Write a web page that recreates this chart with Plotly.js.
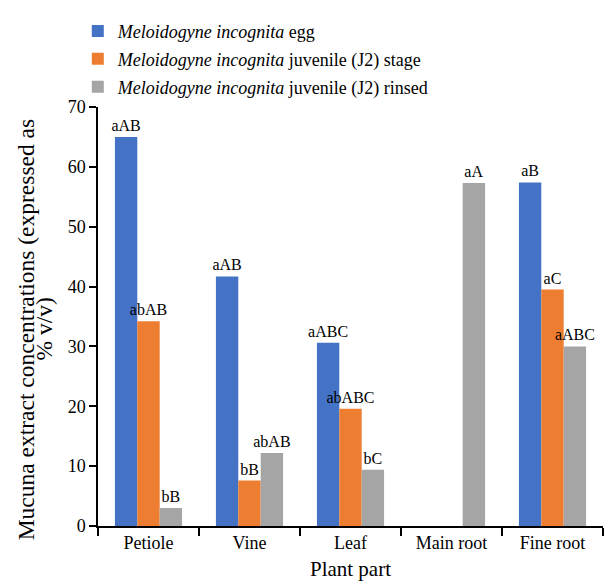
<!DOCTYPE html>
<html>
<head>
<meta charset="utf-8">
<script src="https://cdn.plot.ly/plotly-3.0.1.min.js"></script>
<style>html,body{margin:0;padding:0;background:#fff;}#chart{width:614px;height:587px;}</style>
</head>
<body>
<div id="chart"></div>
<script>
var categories = ['Petiole', 'Vine', 'Leaf', 'Main root', 'Fine root'];

var seriesNames = [
  '<i>Meloidogyne incognita</i> egg',
  '<i>Meloidogyne incognita</i> juvenile (J2) stage',
  '<i>Meloidogyne incognita</i> juvenile (J2) rinsed'
];

var eggValues = [65.0, 41.7, 30.6, null, 57.4];
var stageValues = [34.2, 7.6, 19.6, null, 39.5];
var rinsedValues = [3.0, 12.2, 9.4, 57.3, 30.0];

var eggLabels = ['aAB', 'aAB', 'aABC', '', 'aB'];
var stageLabels = ['abAB', 'bB', 'abABC', '', 'aC'];
var rinsedLabels = ['bB', 'abAB', 'bC', 'aA', 'aABC'];

var colors = ['#4472C4', '#ED7D31', '#A5A5A5'];
var FONT = '"Liberation Serif", "Times New Roman", serif';

function mk(name, vals, labels, color, grp) {
  return {
    type: 'bar', name: name, x: categories, y: vals, text: labels,
    legendgroup: grp,
    textposition: 'outside', cliponaxis: false, constraintext: 'none',
    textfont: {family: FONT, size: 16, color: '#000'},
    marker: {color: color, line: {width: 0}},
    hoverinfo: 'x+y'
  };
}

var data = [
  mk(seriesNames[0], eggValues, eggLabels, colors[0], 'g1'),
  mk(seriesNames[1], stageValues, stageLabels, colors[1], 'g2'),
  mk(seriesNames[2], rinsedValues, rinsedLabels, colors[2], 'g3')
];

var layout = {
  width: 614, height: 587,
  margin: {l: 98, r: 11, t: 107, b: 61, autoexpand: false},
  paper_bgcolor: '#fff', plot_bgcolor: '#fff',
  font: {family: FONT, color: '#000'},
  barmode: 'group', bargap: 0.335, bargroupgap: 0,
  showlegend: true,
  legend: {
    x: -0.04, y: 1.225, xanchor: 'left', yanchor: 'top',
    font: {family: FONT, size: 18, color: '#000'},
    bgcolor: 'rgba(0,0,0,0)', traceorder: 'grouped', tracegroupgap: 1.5
  },
  xaxis: {
    type: 'category', tickangle: 0,
    showline: true, linecolor: '#000', linewidth: 1.5,
    ticks: 'outside', tickson: 'boundaries', ticklen: 8, tickcolor: '#000', tickwidth: 1.5,
    tickfont: {family: FONT, size: 18, color: '#000'},
    showgrid: false, zeroline: false,
    title: {text: 'Plant part', font: {family: FONT, size: 21, color: '#000'}, standoff: 9}
  },
  yaxis: {
    range: [0, 70], dtick: 10, tick0: 0,
    showline: true, linecolor: '#000', linewidth: 1.5,
    ticks: 'outside', ticklen: 7, tickcolor: '#000', tickwidth: 1.5,
    tickfont: {family: FONT, size: 18, color: '#000'},
    showgrid: false, zeroline: false
  },
  annotations: [
    {xref: 'paper', yref: 'paper', x: -0.142, y: 0.47, xanchor: 'center', yanchor: 'middle',
     text: 'Mucuna extract concentrations (expressed as', textangle: -90, showarrow: false,
     font: {family: FONT, size: 23.5, color: '#000'}},
    {xref: 'paper', yref: 'paper', x: -0.106, y: 0.47, xanchor: 'center', yanchor: 'middle',
     text: '% v/v)', textangle: -90, showarrow: false,
     font: {family: FONT, size: 23.5, color: '#000'}}
  ]
};

Plotly.newPlot('chart', data, layout, {displayModeBar: false, responsive: false});
</script>
</body>
</html>
